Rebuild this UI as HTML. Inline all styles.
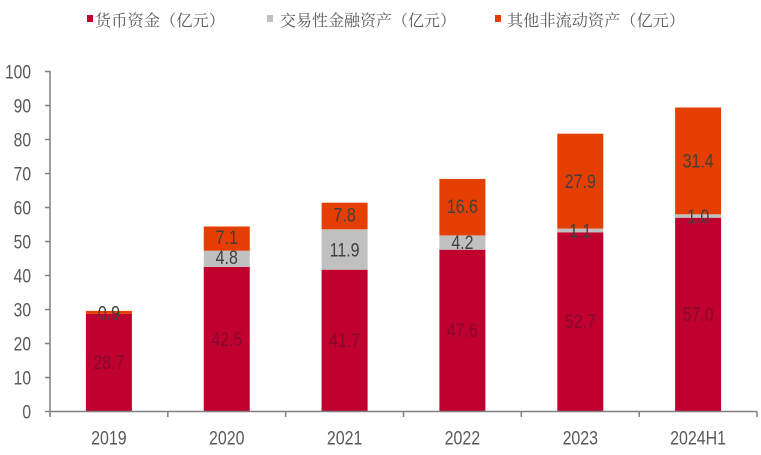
<!DOCTYPE html>
<html>
<head>
<meta charset="utf-8">
<style>
html,body{margin:0;padding:0;background:#fff;}
svg{display:block;}
.ax{font-family:"Liberation Sans",sans-serif;font-size:19px;fill:#595959;}
.lb{font-family:"Liberation Sans",sans-serif;font-size:19px;fill:#404040;}
.lr{font-family:"Liberation Sans",sans-serif;font-size:19px;fill:#5a0f28;opacity:0.6;}
.lg{font-family:"Liberation Serif","Noto Serif CJK SC",serif;font-size:16px;fill:#5a5a5a;}
</style>
</head>
<body>
<svg width="761" height="455" viewBox="0 0 761 455" xmlns="http://www.w3.org/2000/svg">
<rect width="761" height="455" fill="#fff"/>
<!-- legend -->
<rect x="87" y="15" width="6" height="7" fill="#C0002F"/>
<text class="lg" x="95" y="26" textLength="130" lengthAdjust="spacingAndGlyphs">货币资金（亿元）</text>
<rect x="267" y="15" width="6" height="7" fill="#C0C0C0"/>
<text class="lg" x="280" y="26" textLength="176" lengthAdjust="spacingAndGlyphs">交易性金融资产（亿元）</text>
<rect x="495" y="15" width="6" height="7" fill="#E43F00"/>
<text class="lg" x="507" y="26" textLength="178" lengthAdjust="spacingAndGlyphs">其他非流动资产（亿元）</text>

<!-- bars -->
<g>
<rect x="85.9" y="313.9" width="46" height="97.6" fill="#C0002F"/>
<rect x="85.9" y="310.9" width="46" height="3.0" fill="#E43F00"/>
<rect x="203.75" y="267.0" width="46" height="144.5" fill="#C0002F"/>
<rect x="203.75" y="250.7" width="46" height="16.3" fill="#C0C0C0"/>
<rect x="203.75" y="226.5" width="46" height="24.2" fill="#E43F00"/>
<rect x="321.6" y="269.7" width="46" height="141.8" fill="#C0002F"/>
<rect x="321.6" y="229.3" width="46" height="40.4" fill="#C0C0C0"/>
<rect x="321.6" y="202.7" width="46" height="26.6" fill="#E43F00"/>
<rect x="439.4" y="249.7" width="46" height="161.8" fill="#C0002F"/>
<rect x="439.4" y="235.4" width="46" height="14.3" fill="#C0C0C0"/>
<rect x="439.4" y="178.9" width="46" height="56.5" fill="#E43F00"/>
<rect x="557.3" y="232.3" width="46" height="179.2" fill="#C0002F"/>
<rect x="557.3" y="228.6" width="46" height="3.7" fill="#C0C0C0"/>
<rect x="557.3" y="133.7" width="46" height="94.9" fill="#E43F00"/>
<rect x="675.1" y="217.7" width="46" height="193.8" fill="#C0002F"/>
<rect x="675.1" y="214.3" width="46" height="3.4" fill="#C0C0C0"/>
<rect x="675.1" y="107.5" width="46" height="106.8" fill="#E43F00"/>
</g>

<!-- axes -->
<g stroke="#808080" stroke-width="1.5" fill="none">
<line x1="50" y1="71" x2="50" y2="412"/>
<line x1="50" y1="411.5" x2="757" y2="411.5"/>
<line x1="45" y1="71.5" x2="50" y2="71.5"/>
<line x1="45" y1="105.5" x2="50" y2="105.5"/>
<line x1="45" y1="139.5" x2="50" y2="139.5"/>
<line x1="45" y1="173.5" x2="50" y2="173.5"/>
<line x1="45" y1="207.5" x2="50" y2="207.5"/>
<line x1="45" y1="241.5" x2="50" y2="241.5"/>
<line x1="45" y1="275.5" x2="50" y2="275.5"/>
<line x1="45" y1="309.5" x2="50" y2="309.5"/>
<line x1="45" y1="343.5" x2="50" y2="343.5"/>
<line x1="45" y1="377.5" x2="50" y2="377.5"/>
<line x1="45" y1="411.5" x2="50" y2="411.5"/>
<line x1="50" y1="411.5" x2="50" y2="417"/>
<line x1="167.8" y1="411.5" x2="167.8" y2="417"/>
<line x1="285.7" y1="411.5" x2="285.7" y2="417"/>
<line x1="403.5" y1="411.5" x2="403.5" y2="417"/>
<line x1="521.3" y1="411.5" x2="521.3" y2="417"/>
<line x1="639.2" y1="411.5" x2="639.2" y2="417"/>
<line x1="757" y1="411.5" x2="757" y2="417"/>
</g>

<!-- y tick labels -->
<g class="ax" text-anchor="end">
<text transform="translate(31,78.3) scale(0.82,1)">100</text>
<text transform="translate(31,112.3) scale(0.82,1)">90</text>
<text transform="translate(31,146.3) scale(0.82,1)">80</text>
<text transform="translate(31,180.3) scale(0.82,1)">70</text>
<text transform="translate(31,214.3) scale(0.82,1)">60</text>
<text transform="translate(31,248.3) scale(0.82,1)">50</text>
<text transform="translate(31,282.3) scale(0.82,1)">40</text>
<text transform="translate(31,316.3) scale(0.82,1)">30</text>
<text transform="translate(31,350.3) scale(0.82,1)">20</text>
<text transform="translate(31,384.3) scale(0.82,1)">10</text>
<text transform="translate(31,418.3) scale(0.82,1)">0</text>
</g>

<!-- x labels -->
<g class="ax" text-anchor="middle">
<text transform="translate(108.9,444.5) scale(0.84,1)">2019</text>
<text transform="translate(226.75,444.5) scale(0.84,1)">2020</text>
<text transform="translate(344.6,444.5) scale(0.84,1)">2021</text>
<text transform="translate(462.4,444.5) scale(0.84,1)">2022</text>
<text transform="translate(580.3,444.5) scale(0.84,1)">2023</text>
<text transform="translate(698.1,444.5) scale(0.84,1)">2024H1</text>
</g>

<!-- data labels -->
<g class="lb" text-anchor="middle">
<text transform="translate(108.9,319.5) scale(0.84,1)">0.9</text>
<text transform="translate(226.75,244) scale(0.84,1)">7.1</text>
<text transform="translate(226.75,264) scale(0.84,1)">4.8</text>
<text transform="translate(344.6,221.5) scale(0.84,1)">7.8</text>
<text transform="translate(344.6,256.5) scale(0.84,1)">11.9</text>
<text transform="translate(462.4,213) scale(0.84,1)">16.6</text>
<text transform="translate(462.4,249) scale(0.84,1)">4.2</text>
<text transform="translate(580.3,188) scale(0.84,1)">27.9</text>
<text transform="translate(580.3,237.5) scale(0.84,1)">1.1</text>
<text transform="translate(698.1,167.5) scale(0.84,1)">31.4</text>
<text transform="translate(698.1,223) scale(0.84,1)">1.0</text>
</g>
<g class="lr" text-anchor="middle">
<text transform="translate(108.9,369) scale(0.84,1)">28.7</text>
<text transform="translate(226.75,346) scale(0.84,1)">42.5</text>
<text transform="translate(344.6,347) scale(0.84,1)">41.7</text>
<text transform="translate(462.4,337) scale(0.84,1)">47.6</text>
<text transform="translate(580.3,328) scale(0.84,1)">52.7</text>
<text transform="translate(698.1,321) scale(0.84,1)">57.0</text>
</g>
</svg>
</body>
</html>
